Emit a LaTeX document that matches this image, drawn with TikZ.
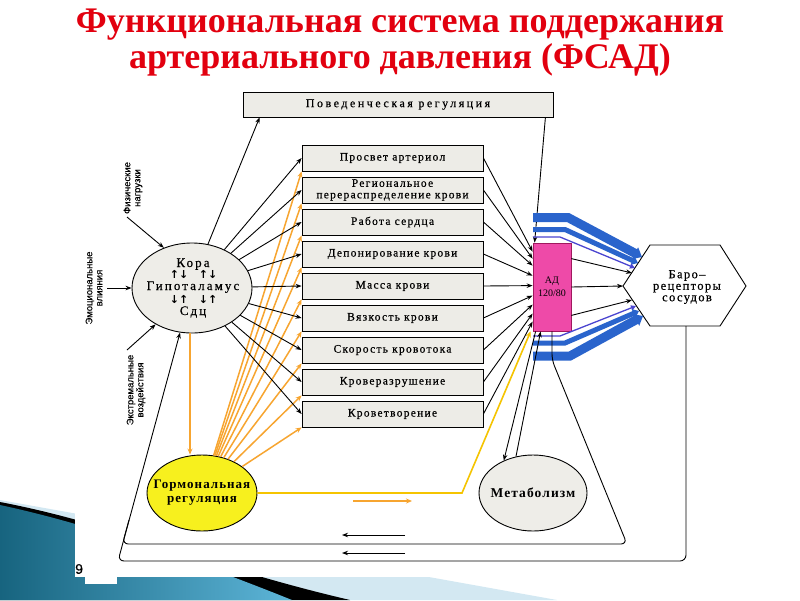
\documentclass[tikz,border=0pt]{standalone}
\usepackage{fontspec}
\setmainfont{Liberation Serif}
\newfontfamily\fA[LetterSpace=11,FakeBold=0.5]{Liberation Serif}
\newfontfamily\fB[LetterSpace=16,FakeBold=0.5]{Liberation Serif}
\newfontfamily\fD[LetterSpace=21,FakeBold=0.5]{Liberation Serif}
\newfontfamily\fC[LetterSpace=8]{Liberation Serif}
\newfontfamily\lblfont[FakeBold=0.3]{Liberation Sans}
\newfontfamily\symfont{DejaVu Sans}
\usetikzlibrary{arrows.meta,calc,shapes.geometric}
\definecolor{titlered}{HTML}{E2000F}
\definecolor{boxfill}{HTML}{EDECE7}
\definecolor{ellfill}{HTML}{EEEDE8}
\definecolor{adpink}{HTML}{EE4AA8}
\definecolor{adborder}{HTML}{A0185E}
\definecolor{bandblue}{HTML}{2A64CC}
\definecolor{thinblue}{HTML}{4B45D0}
\definecolor{fanorange}{HTML}{F7A530}
\definecolor{goldline}{HTML}{F5C400}
\definecolor{hormyellow}{HTML}{F7F01E}
\definecolor{teal1}{HTML}{17647F}
\definecolor{teal2}{HTML}{5DB5D8}
\definecolor{lightblue}{HTML}{D3E8F2}
\begin{document}
\begin{tikzpicture}[x=1pt,y=-1pt,
  arr/.style={draw=black, line width=0.9pt, -{Stealth[length=6pt,width=4.5pt]}},
  oarr/.style={draw=fanorange, line width=1.5pt, -{Stealth[length=6pt,width=5pt]}},
  goldarr/.style={draw=goldline, line width=1.6pt, -{Stealth[length=6pt,width=5pt]}},
  factor/.style={draw=black, line width=0.8pt, fill=boxfill, minimum width=181pt, minimum height=26pt, inner sep=1pt, align=center, font=\fA\fontsize{11.5}{11.5}\selectfont},
  behbox/.style={draw=black, line width=0.8pt, fill=boxfill, minimum width=310pt, minimum height=25pt, inner sep=1pt, font=\fD\fontsize{12}{12}\selectfont},
  oval/.style={ellipse, draw=black, line width=0.9pt, inner sep=0pt},
  koraline/.style={anchor=base, inner sep=0pt, font=\fB\fontsize{13}{13}\selectfont},
  updown/.style={anchor=base, inner sep=0pt, font=\symfont\bfseries\fontsize{11}{11}\selectfont},
  lbl/.style={align=center, inner sep=0pt, font=\lblfont\fontsize{9.5}{10}\selectfont},
  bandA/.style={draw=bandblue, line width=9pt, line join=miter, -{Triangle[length=8pt,width=13pt]}},
  bandB/.style={draw=bandblue, line width=5pt, line join=miter, -{Triangle[length=6pt,width=9pt]}},
  bandC/.style={draw=thinblue, line width=1.3pt, -{Triangle[length=5pt,width=5pt]}}
]
\useasboundingbox (0,0) rectangle (800,600);
% slide decoration
\fill[lightblue] (0,500) -- (557,600) -- (0,600) -- cycle;
\fill[black] (0,502) .. controls (120,525) and (200,565) .. (350,600) -- (0,600) -- cycle;
\shade[left color=teal1, right color=teal2] (0,505) .. controls (80,522) and (180,555) .. (292,600) -- (0,600) -- cycle;
\fill[white] (75,0) rectangle (800,577);
\fill[white] (85,577) rectangle (117,584);
\node[font=\lblfont\fontsize{14}{14}\selectfont, anchor=west, inner sep=0pt] (pagenum) at (75,569) {9};
% title
\node[font=\bfseries\fontsize{36}{36}\selectfont, text=titlered, align=center] (title) at (400,43) {Функциональная система поддержания\\артериального давления (ФСАД)};
% boxes
\node[behbox] (beh) at (398,104.5) {Поведенческая регуляция};
\node[factor] (b1) at (392.5,158) {Просвет артериол};
\node[factor] (b2) at (392.5,190) {Региональное\\перераспределение крови};
\node[factor] (b3) at (392.5,222) {Работа сердца};
\node[factor] (b4) at (392.5,254) {Депонирование крови};
\node[factor] (b5) at (392.5,286) {Масса крови};
\node[factor] (b6) at (392.5,318) {Вязкость крови};
\node[factor] (b7) at (392.5,350) {Скорость кровотока};
\node[factor] (b8) at (392.5,382) {Кроверазрушение};
\node[factor] (b9) at (392.5,414) {Кроветворение};
% ovals
\node[oval, fill=ellfill, minimum width=120pt, minimum height=90pt] (kora) at (192,288) {};
\node[koraline] (k1) at (193,267) {Кора};
\node[updown] (a1) at (179,278) {↑↓};
\node[updown] (a2) at (208,278) {↑↓};
\node[koraline] (k2) at (193,290) {Гипоталамус};
\node[updown] (a3) at (179,303) {↓↑};
\node[updown] (a4) at (208,303) {↓↑};
\node[koraline] (k3) at (193,315) {Сдц};
\node[oval, fill=hormyellow, minimum width=110pt, minimum height=76pt] (horm) at (202,493) {};
\node[align=center, inner sep=0pt, font=\fC\bfseries\fontsize{13}{14}\selectfont] (hormtext) at (202,493) {Гормональная\\регуляция};
\node[oval, fill=ellfill, minimum width=108pt, minimum height=76pt] (metab) at (533,493) {};
\node[inner sep=0pt, font=\fC\bfseries\fontsize{13.5}{14}\selectfont] (metabtext) at (533,493) {Метаболизм};
% AD box
\node[draw=adborder, line width=0.8pt, fill=adpink, minimum width=38pt, minimum height=88pt, inner sep=0pt, align=center, font=\fontsize{10}{13}\selectfont] (ad) at (552,287) {АД\\120/80};
% hexagon
\coordinate (hL) at (623,286);
\coordinate (hB) at (686,326);
\draw[line width=0.9pt, fill=white] (hL) -- (650,245) -- (720,245) -- (746,286) -- (720,326) -- (650,326) -- cycle;
\node[align=center, inner sep=0pt, font=\fA\fontsize{12.5}{11.5}\selectfont] (baro) at (687,287) {Баро–\\рецепторы\\сосудов};
\coordinate (hx1) at (632,273);
\coordinate (hx2) at (632,300);
% labels
\node[lbl, rotate=90] (phys) at (133,188) {Физические\\нагрузки};
\node[lbl, rotate=90] (emo) at (94,288) {Эмоциональные\\влияния};
\node[lbl, rotate=90] (ext) at (136,390) {Экстремальные\\воздействия};
\coordinate (physS) at (127,217);
\coordinate (emoS) at (107,288);
\coordinate (extS) at (127,350);
\draw[arr] (physS) -- (kora.125);
\draw[arr] (emoS) -- (kora.west);
\draw[arr] (extS) -- (kora.225);
% orange fan
\foreach \i in {1,...,9} \draw[oarr] (horm) -- (b\i.south west);
\draw[oarr] ([xshift=-2pt]kora.south) -- ([xshift=-2pt]kora.south |- horm.north);
% black fan
\draw[arr] (kora.70) -- ([xshift=17pt]beh.south west);
\foreach \i in {1,...,9} \draw[arr] (kora) -- (b\i.west);
% boxes to AD
\foreach \i/\dy in {1/9,2/16,3/23,4/33,5/43,6/53,7/62,8/71,9/79} \draw[arr] (b\i.east) -- ([yshift=-\dy pt]ad.north west);
\draw[arr] ([xshift=-8pt]beh.south east) -- ([xshift=2pt]ad.north west);
% blue bands
\draw[bandA] (533,217.5) -- (568,217.5) -- (642,257);
\draw[bandB] (533,229.5) -- (565,229.5) -- (638,263);
\draw[bandC] (533,237) -- (560,237) -- (635,268);
\draw[bandC] (533,336) -- (560,336) -- (636,306);
\draw[bandB] (533,343) -- (565,343) -- (639,311);
\draw[bandA] (533,356) -- (570,356) -- (643,316);
% AD to hexagon
\draw[arr] ([yshift=-16pt]ad.north east) -- (hx1);
\draw[arr] (ad.east) -- (hL);
\draw[arr] ([yshift=16pt]ad.south east) -- (hx2);
% AD <-> metabolism
\draw[arr] ([xshift=3pt]ad.south west) -- (metab.132);
\draw[arr] (metab.115) -- ([xshift=8pt]ad.south west);
% gold line
\coordinate (goldbend) at (462,493);
\draw[goldarr] (horm.east) -- (goldbend) -- ([xshift=-2pt]ad.south west);
\coordinate (oa1) at (353,501);
\coordinate (oa2) at (412,501);
\draw[oarr] (oa1) -- (oa2);
% loops
\draw[line width=0.9pt, rounded corners=6pt] (ad.south) -- (552,360) -- (627,544) -- (122.4,544) -- (129,520);
\draw[arr, rounded corners=6pt] (hB) -- (686,561) -- (118,561) -- (kora.255);
\coordinate (la1) at (405,535); \coordinate (la2) at (342,535);
\coordinate (lb1) at (405,553); \coordinate (lb2) at (342,553);
\draw[arr] (la1) -- (la2);
\draw[arr] (lb1) -- (lb2);
\end{tikzpicture}
\end{document}
